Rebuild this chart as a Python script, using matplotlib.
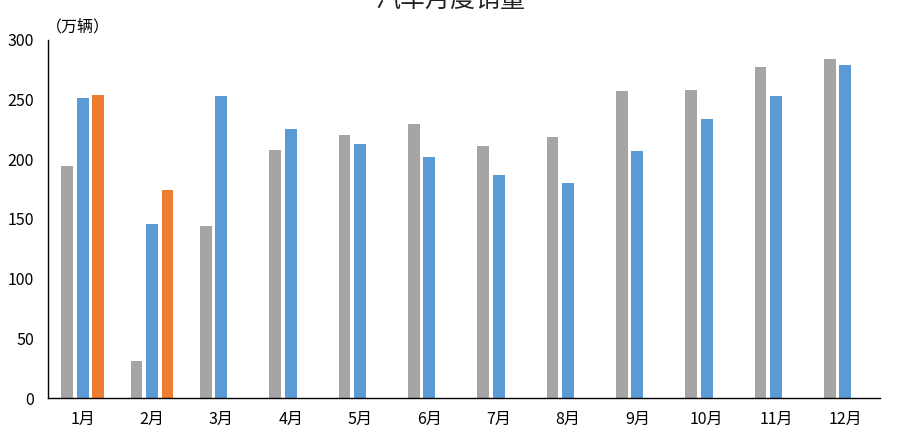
import matplotlib
matplotlib.use("Agg")
import matplotlib.pyplot as plt
import numpy as np

plt.rcParams['font.family'] = ['Noto Sans CJK SC', 'DejaVu Sans']

months = ['1月', '2月', '3月', '4月', '5月', '6月', '7月', '8月', '9月', '10月', '11月', '12月']
sales_2020 = [194, 31, 144, 208, 220, 230, 211, 219, 257, 258, 277, 284]
sales_2021 = [251, 146, 253, 225, 213, 202, 187, 180, 207, 234, 253, 279]
sales_2022 = [254, 174, np.nan, np.nan, np.nan, np.nan, np.nan, np.nan, np.nan, np.nan, np.nan, np.nan]
series_names = ['2020年', '2021年', '2022年']
colors = ['#A5A5A5', '#5B9BD5', '#ED7D31']

fig = plt.figure(figsize=(8.97, 4.47), dpi=100)
ax = fig.add_axes([0.0535, 0.1096, 0.9275, 0.801])

x = np.arange(len(months))
step = 0.224
width = 0.17
for i, (vals, c, name) in enumerate(zip([sales_2020, sales_2021, sales_2022], colors, series_names)):
    ax.bar(x + (i - 1) * step, vals, width=width, color=c, label=name, zorder=2)

ax.set_xlim(-0.5, len(months) - 0.5)
ax.set_ylim(0, 300)
ax.set_yticks(np.arange(0, 301, 50))
ax.set_xticks(x)
ax.set_xticklabels(months)
ax.tick_params(axis='both', length=0, labelsize=11.5)
ax.tick_params(axis='x', pad=9)
ax.tick_params(axis='y', pad=10)
for s in ['top', 'right']:
    ax.spines[s].set_visible(False)
for s in ['left', 'bottom']:
    ax.spines[s].set_color('black')
    ax.spines[s].set_linewidth(1.0)

fig.text(0.502, 1.0, '汽车月度销量', ha='center', va='center', fontsize=18, color='#222222')
fig.text(0.051, 0.94, '（万辆）', ha='left', va='center', fontsize=11.5)

fig.savefig('out.png', dpi=100)
